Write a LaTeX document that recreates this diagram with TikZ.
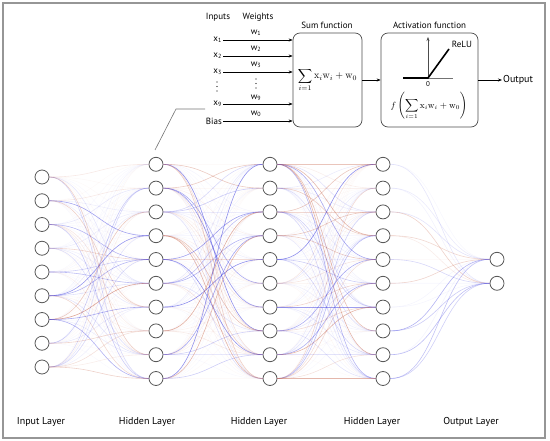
\documentclass[tikz,border=0pt]{standalone}
\usepackage{amsmath}
\usepackage[no-math]{fontspec}
\setmainfont{PT Sans}
\usetikzlibrary{arrows.meta,calc}
\definecolor{netblue}{RGB}{75,75,225}
\definecolor{netred}{RGB}{200,105,80}
\definecolor{framegray}{RGB}{150,150,150}
\begin{document}
\begin{tikzpicture}[x=1pt,y=-1pt,
  neuron/.style={circle,draw=black!65,line width=0.8pt,minimum size=14pt,inner sep=0pt},
  lbl/.style={font=\fontsize{9}{10}\selectfont,inner sep=1pt},
  layerlbl/.style={font=\fontsize{10}{12}\selectfont,inner sep=1pt},
  fbox/.style={draw=black!70,line width=0.7pt,rounded corners=7pt,inner sep=0pt},
  arr/.style={-{Stealth[length=4pt,width=3pt]},line width=0.6pt},
  dotmark/.style={circle,fill=black,inner sep=0pt,minimum size=1.1pt},
  edge/.style={line width=0.6pt}]
\useasboundingbox (0,0) rectangle (550,441);
\draw[framegray,line width=1.2pt] (3,3) rectangle (545,438);

% ---------------- network nodes
\foreach \k in {1,...,9}{
  \node[neuron] (i\k) at (42,{177+23.75*(\k-1)}) {};
}
\foreach \k in {1,...,10}{
  \node[neuron] (a\k) at (156,{164.3+23.8*(\k-1)}) {};
  \node[neuron] (b\k) at (270,{164.3+23.8*(\k-1)}) {};
  \node[neuron] (c\k) at (383,{164.3+23.8*(\k-1)}) {};
}
\node[neuron] (o1) at (497,259.3) {};
\node[neuron] (o2) at (497,283.3) {};

% ---------------- edges
\pgfmathsetseed{11}
\foreach \i in {1,...,9}{\foreach \j in {1,...,10}{
  \pgfmathsetmacro\u{rnd}
  \pgfmathsetmacro\op{0.03+0.62*\u^4}
  \pgfmathtruncatemacro\c{rnd<0.5}
  \ifnum\c=1 \def\col{netblue}\else\def\col{netred}\fi
  \draw[edge,\col,opacity=\op] (i\i) .. controls +(57,0) and +(-57,0) .. (a\j);
}}
\foreach \i in {1,...,10}{\foreach \j in {1,...,10}{
  \pgfmathsetmacro\u{rnd}
  \pgfmathsetmacro\op{0.03+0.62*\u^4}
  \pgfmathtruncatemacro\c{rnd<0.5}
  \ifnum\c=1 \def\col{netblue}\else\def\col{netred}\fi
  \draw[edge,\col,opacity=\op] (a\i) .. controls +(57,0) and +(-57,0) .. (b\j);
}}
\foreach \i in {1,...,10}{\foreach \j in {1,...,10}{
  \pgfmathsetmacro\u{rnd}
  \pgfmathsetmacro\op{0.03+0.62*\u^4}
  \pgfmathtruncatemacro\c{rnd<0.55}
  \ifnum\c=1 \def\col{netblue}\else\def\col{netred}\fi
  \draw[edge,\col,opacity=\op] (b\i) .. controls +(57,0) and +(-57,0) .. (c\j);
}}
\foreach \i in {1,...,10}{\foreach \j in {1,2}{
  \pgfmathsetmacro\u{rnd}
  \pgfmathsetmacro\op{0.04+0.4*\u^2}
  \pgfmathtruncatemacro\c{rnd<0.6}
  \ifnum\c=1 \def\col{netblue}\else\def\col{netred}\fi
  \draw[edge,\col,opacity=\op] (c\i) .. controls +(57,0) and +(-57,0) .. (o\j);
}}

% ---------------- layer labels
\node[layerlbl] (L1) at (41,422) {Input Layer};
\node[layerlbl] (L2) at (147,422) {Hidden Layer};
\node[layerlbl] (L3) at (259,422) {Hidden Layer};
\node[layerlbl] (L4) at (372,422) {Hidden Layer};
\node[layerlbl] (L5) at (471,422) {Output Layer};

% ---------------- neuron detail
\node[lbl] (inputs) at (218,17) {Inputs};
\node[lbl] (weights) at (258,17) {Weights};
\node[lbl] (sumt) at (327,25) {Sum function};
\node[lbl] (actt) at (429.5,25) {Activation function};

\node[fbox,minimum width=69pt,minimum height=94pt] (sum) at (327.5,80)
  {$\displaystyle\sum_{i=1}\mathrm{x}_i\mathrm{w}_i+\mathrm{w}_0$};
\node[fbox,minimum width=97pt,minimum height=94pt] (act) at (429.5,80) {};

\node[lbl,anchor=east] (x1) at (223,40) {x\textsubscript{1}};
\node[lbl,anchor=east] (x2) at (223,56) {x\textsubscript{2}};
\node[lbl,anchor=east] (x3) at (223,72) {x\textsubscript{3}};
\node[lbl,anchor=east] (x9) at (223,104) {x\textsubscript{9}};
\node[lbl,anchor=east] (bias) at (223,121) {Bias};
\foreach \yy in {82,86.5,91}{
  \node[dotmark] at (217,\yy) {};
  \node[dotmark] at (256,\yy-3) {};
}

\node[lbl] (w1) at (256,33) {w\textsubscript{1}};
\node[lbl] (w2) at (256,49) {w\textsubscript{2}};
\node[lbl] (w3) at (256,65) {w\textsubscript{3}};
\node[lbl] (w9) at (256,98) {w\textsubscript{9}};
\node[lbl] (w0) at (256,114) {w\textsubscript{0}};

\foreach \n in {x1,x2,x3,x9,bias}{
  \draw[arr] (\n.east) -- (\n.east -| sum.west);
}
\draw[arr] (sum.east) -- (act.west);
\node[font=\fontsize{10}{12}\selectfont,anchor=west,inner sep=1pt] (out) at (502,80) {Output};
\draw[arr] (act.east) -- (out.west);

% ReLU plot
\coordinate (org) at (428,78);
\coordinate (hl) at (403,78);
\coordinate (hr) at (453,78);
\coordinate (vt) at (428,37);
\coordinate (rl) at (449,49);
\draw[black!55,line width=0.5pt] (hl) -- (hr);
\draw[arr,line width=0.5pt,black!70] (org) -- (vt);
\draw[line width=1.6pt] (hl) -- (org) -- (rl);
\node[font=\fontsize{7}{8}\selectfont,inner sep=0pt] (zero) at (428,84) {0};
\node[lbl] (relu) at (462,44) {ReLU};
\node[inner sep=0pt,font=\fontsize{9}{10}\selectfont] (ff) at (429,106)
  {$f\left(\displaystyle\sum_{i=1}\mathrm{x}_i\mathrm{w}_i+\mathrm{w}_0\right)$};

% pointer line
\coordinate (p1) at (155,150);
\coordinate (p2) at (176,109);
\coordinate (p3) at (205,109);
\draw[black!55,line width=0.6pt] (p1) -- (p2) -- (p3);
\end{tikzpicture}
\end{document}
